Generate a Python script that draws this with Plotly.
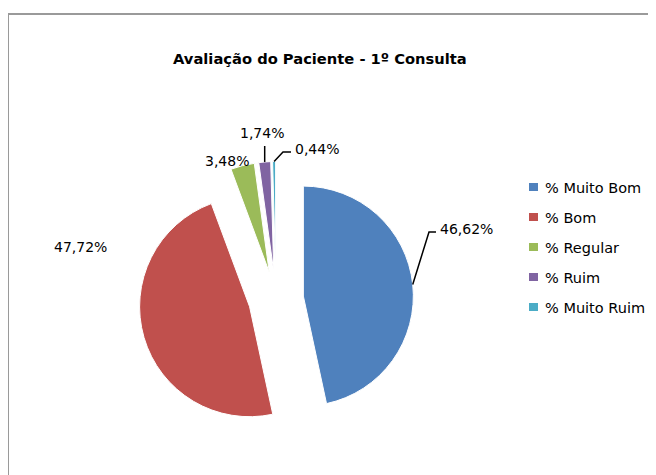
import math
import plotly.graph_objects as go

categories = ["% Muito Bom", "% Bom", "% Regular", "% Ruim", "% Muito Ruim"]
values = [46.62, 47.72, 3.48, 1.74, 0.44]
value_labels = ["46,62%", "47,72%", "3,48%", "1,74%", "0,44%"]
colors = ["#4F81BD", "#C0504D", "#9BBB59", "#8064A2", "#4BACC6"]
title_text = "Avaliação do Paciente - 1º Consulta"

OFF = 8                 # page body margin in the browser
W, H = 656 - OFF, 475 - OFF
CX, CY = 276, 299       # pie centre, window px
R = 110                 # pie radius, px
PULL = 0.25
box = R * (2 + 2 * PULL)
dom_x = [(CX - OFF - box / 2) / W, (CX - OFF + box / 2) / W]
dom_y = [1 - (CY - OFF + box / 2) / H, 1 - (CY - OFF - box / 2) / H]

FONT = "DejaVu Sans"


def paper(x, y):
    return (x - OFF) / W, 1 - (y - OFF) / H


fig = go.Figure(go.Pie(
    labels=categories, values=values, sort=False, direction="clockwise",
    rotation=0, pull=[PULL] * len(values), textinfo="none", hoverinfo="label+percent",
    marker=dict(colors=colors, line=dict(color="white", width=1)),
    domain=dict(x=dom_x, y=dom_y), showlegend=False,
))

# slice geometry derived from the values
total = sum(values)
anchors = []
cum = 0.0
for v in values:
    mid = (cum + v / 2) / total * 2 * math.pi
    cum += v
    sx = CX + PULL * R * math.sin(mid)
    sy = CY - PULL * R * math.cos(mid)
    anchors.append((sx + R * math.sin(mid), sy - R * math.cos(mid)))

shapes = []
annotations = []

# frame
fx0, fy0 = paper(OFF, 14)
shapes.append(dict(type="rect", xref="paper", yref="paper",
                   x0=fx0, x1=1.2, y0=-0.2, y1=fy0,
                   line=dict(color="#9a9a9a", width=2), fillcolor="rgba(0,0,0,0)"))

# title
tx, ty = paper(320, 58)
annotations.append(dict(text="<b>%s</b>" % title_text, x=tx, y=ty, xref="paper", yref="paper",
                        showarrow=False, xanchor="center", yanchor="middle",
                        font=dict(family=FONT, size=14.7, color="black")))

# data labels (text placement) and leader lines
label_pos = [(438, 229, "left"), (80, 247, "center"), (227, 161, "center"),
             (262, 133, "center"), (293, 149, "left")]
leader = {
    0: [(429, 232), (436, 232)],
    3: [(None, 146)],
    4: [(283, 152), (291, 152)],
}
for i, (lx, ly, anc) in enumerate(label_pos):
    px_, py_ = paper(lx, ly)
    annotations.append(dict(text=value_labels[i], x=px_, y=py_, xref="paper", yref="paper",
                            showarrow=False, xanchor=anc, yanchor="middle",
                            font=dict(family=FONT, size=14, color="black")))
    if i in leader:
        ax, ay = anchors[i]
        pts = [(ax, ay)] + [((ax if p[0] is None else p[0]), p[1]) for p in leader[i]]
        d = ""
        for k, (x, y) in enumerate(pts):
            qx, qy = paper(x, y)
            d += ("M" if k == 0 else " L") + " %.5f %.5f" % (qx, qy)
        shapes.append(dict(type="path", xref="paper", yref="paper", path=d,
                           line=dict(color="black", width=1.5)))

# legend
for i, cat in enumerate(categories):
    yc = 187 + 30 * i
    x0, y0 = paper(529, yc - 4)
    x1, y1 = paper(538, yc + 4)
    shapes.append(dict(type="rect", xref="paper", yref="paper", x0=x0, x1=x1, y0=y1, y1=y0,
                       fillcolor=colors[i], line=dict(width=0)))
    qx, qy = paper(543, yc + 1)
    annotations.append(dict(text=cat, x=qx, y=qy, xref="paper", yref="paper",
                            showarrow=False, xanchor="left", yanchor="middle",
                            font=dict(family=FONT, size=14.5, color="black")))

fig.update_layout(width=W, height=H, margin=dict(l=0, r=0, t=0, b=0),
                  paper_bgcolor="white", plot_bgcolor="white",
                  shapes=shapes, annotations=annotations)

fig.write_html("out.html")
